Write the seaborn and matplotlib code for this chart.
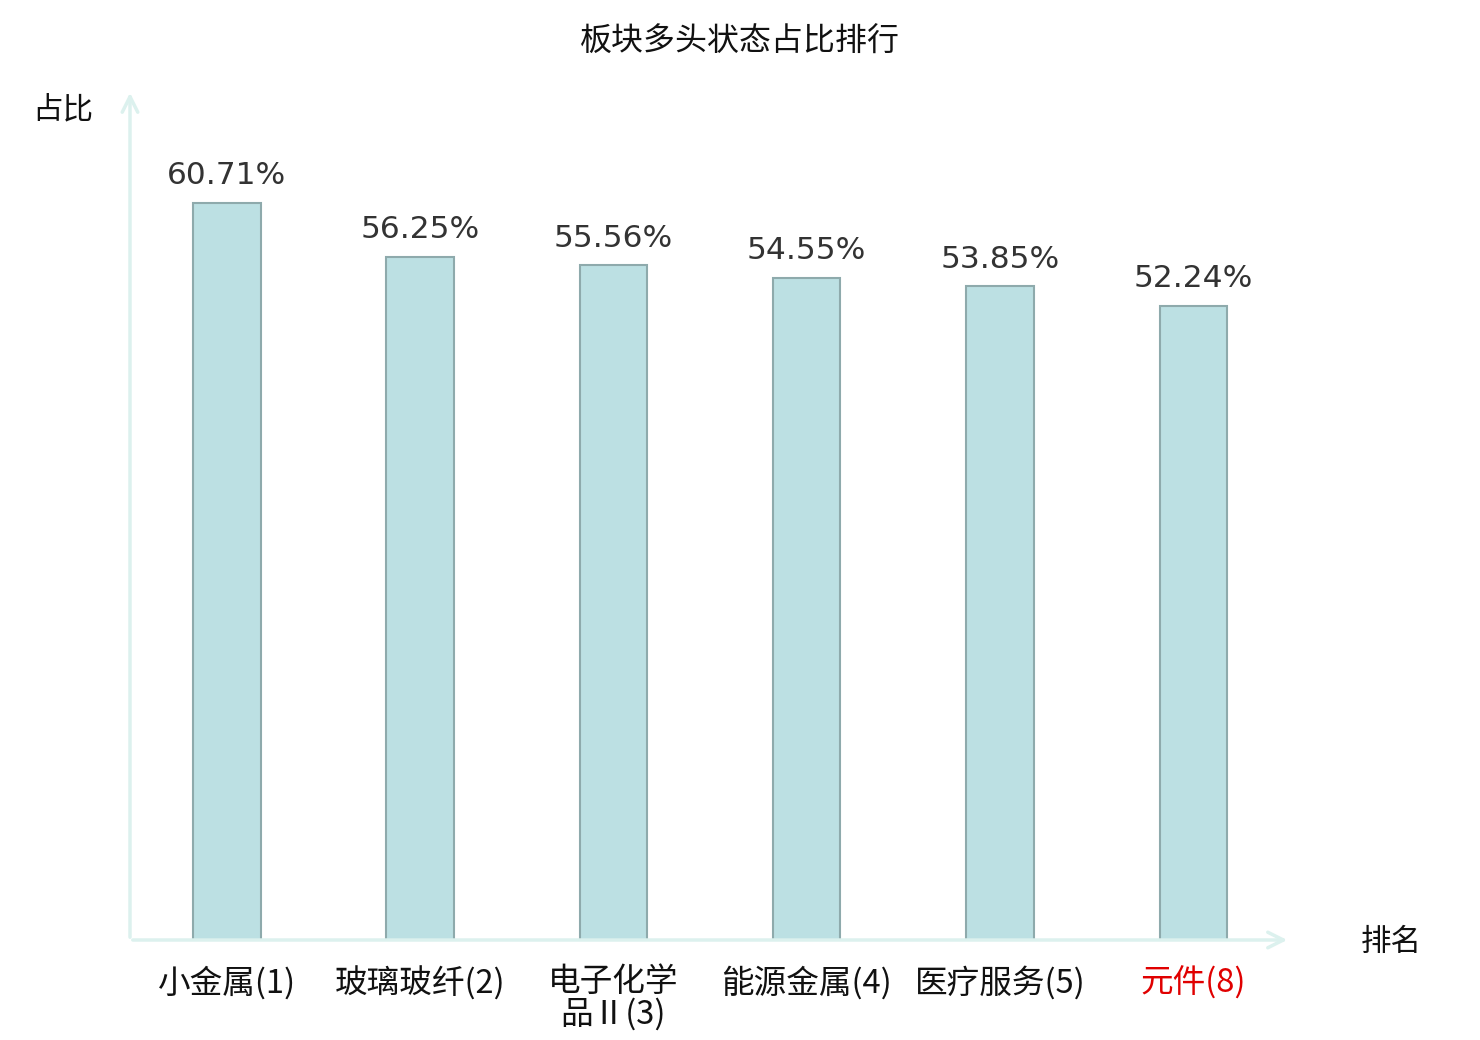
import matplotlib
matplotlib.use('Agg')
import matplotlib.pyplot as plt
import seaborn as sns
import pandas as pd

# data
sectors = ['小金属(1)', '玻璃玻纤(2)', '电子化学\n品Ⅱ(3)', '能源金属(4)', '医疗服务(5)', '元件(8)']
ratios = [60.71, 56.25, 55.56, 54.55, 53.85, 52.24]
highlight = ['元件(8)']

df = pd.DataFrame({'sector': sectors, 'ratio': ratios})

sns.set_style('white')
plt.rcParams['font.family'] = ['Noto Sans CJK SC', 'DejaVu Sans']

fig = plt.figure(figsize=(14.8, 10.4), dpi=100)
ax = fig.add_axes([130 / 1480, 100 / 1040, 1160 / 1480, 850 / 1040])

sns.barplot(data=df, x='sector', y='ratio', color='#bce0e3', saturation=1,
            width=0.35, edgecolor='#8eaaac', linewidth=1.5, ax=ax)

for i, v in enumerate(ratios):
    ax.annotate(f'{v:.2f}%', xy=(i, v), xytext=(0, 9), textcoords='offset points',
                ha='center', va='bottom', fontsize=22.5, color='#333333',
                family='DejaVu Sans')

ax.set_xlim(-0.5, 5.5)
ax.set_ylim(0, 70)
ax.set_xlabel('')
ax.set_ylabel('')
ax.set_yticks([])
ax.tick_params(axis='x', length=0, pad=19, labelsize=23.5)
for lbl in ax.get_xticklabels():
    lbl.set_linespacing(1.0)
    if lbl.get_text() in highlight:
        lbl.set_color('#e00000')
    else:
        lbl.set_color('#111111')
for s in ax.spines.values():
    s.set_visible(False)

# axis arrows
arrow = dict(arrowstyle='->', color='#dcf1ee', lw=2.5, mutation_scale=28)
ax.annotate('', xy=(1, 0), xytext=(0, 0), xycoords='axes fraction', arrowprops=arrow)
ax.annotate('', xy=(0, 1), xytext=(0, 0), xycoords='axes fraction', arrowprops=arrow)

fig.text(0.5, 1 - 42 / 1040, '板块多头状态占比排行', ha='center', va='center', fontsize=23, color='#111111')
fig.text(63 / 1480, 1 - 110 / 1040, '占比', ha='center', va='center', fontsize=22, color='#111111')
fig.text(1391 / 1480, 1 - 942 / 1040, '排名', ha='center', va='center', fontsize=22, color='#111111')

fig.savefig('out.png', dpi=100)
